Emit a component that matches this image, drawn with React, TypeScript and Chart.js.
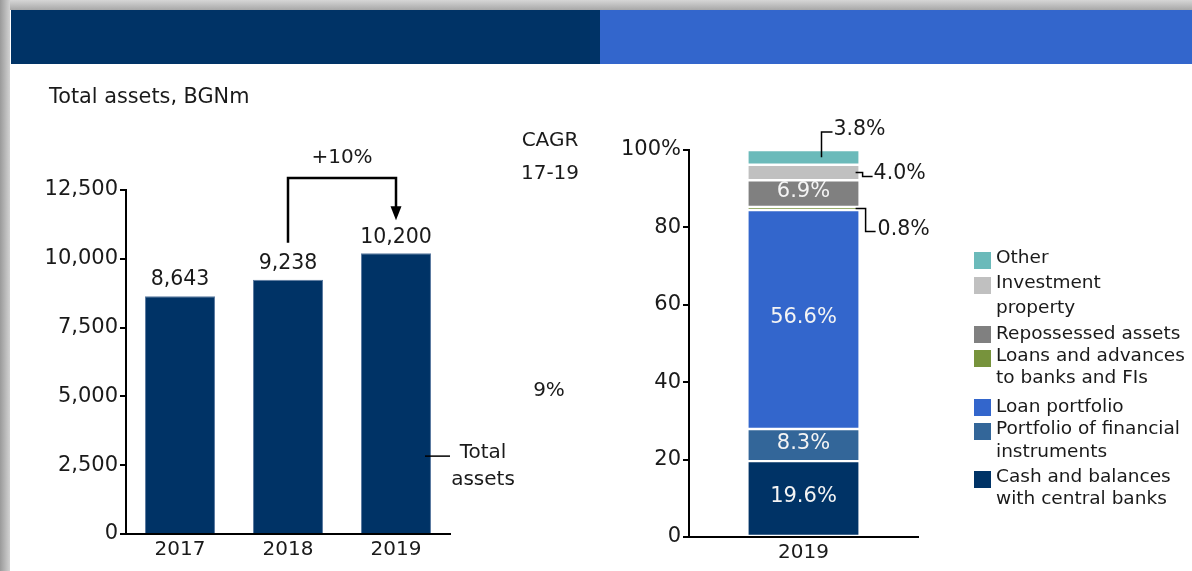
import React, { useEffect, useRef } from 'react';
import { Chart, registerables } from 'chart.js';

Chart.register(...registerables);

const FONT = "'DejaVu Sans', Verdana, sans-serif";
const TEXT = '#1a1a1a';

// ---------- data: left chart ----------
const years = ['2017', '2018', '2019'];
const totalAssets = [8643, 9238, 10200];
const assetTickStep = 2500;
const assetMax = 12500;
const chartTitle = 'Total assets, BGNm';
const growthLabel = '+10%';
const cagrLabel = ['CAGR', '17-19'];
const cagrValue = '9%';
const seriesLabel = ['Total', 'assets'];

// ---------- data: right chart ----------
const structureCategory = ['2019'];
const structureNames = [
  'Cash and balances with central banks',
  'Portfolio of financial instruments',
  'Loan portfolio',
  'Loans and advances to banks and FIs',
  'Repossessed assets',
  'Investment property',
  'Other',
];
const structureLegendLines = [
  ['Cash and balances', 'with central banks'],
  ['Portfolio of financial', 'instruments'],
  ['Loan portfolio'],
  ['Loans and advances', 'to banks and FIs'],
  ['Repossessed assets'],
  ['Investment', 'property'],
  ['Other'],
];
const structureValues = [19.6, 8.3, 56.6, 0.8, 6.9, 4.0, 3.8];
const structureColors = ['#003366', '#336699', '#3366cc', '#77933c', '#808080', '#c0c0c0', '#6bbaba'];
const percentTickStep = 20;
const percentMax = 100;

// ---------- layout (page pixels, right canvas offset 600) ----------
const legendLayout = [
  { i: 6, sq: 252, lines: [258] },
  { i: 5, sq: 277, lines: [283, 308] },
  { i: 4, sq: 326, lines: [334] },
  { i: 3, sq: 350, lines: [356, 378] },
  { i: 2, sq: 399, lines: [407] },
  { i: 1, sq: 423, lines: [429, 452] },
  { i: 0, sq: 471, lines: [477, 499] },
];

const axisCommon = (width: number) => ({
  grid: { display: true, drawOnChartArea: false, drawTicks: true, tickLength: 6, color: '#000', lineWidth: 2 },
  border: { display: true, color: '#000', width: 2 },
  afterFit: (s: any) => { s.width = width; },
});

const leftPlugin = {
  id: 'leftAnnotations',
  afterDraw(chart: any) {
    const { ctx, chartArea, scales } = chart;
    const bars = chart.getDatasetMeta(0).data;
    ctx.save();
    ctx.fillStyle = TEXT;
    ctx.font = `20.8px ${FONT}`;
    ctx.textBaseline = 'middle';
    ctx.textAlign = 'left';
    ctx.fillText(chartTitle, 49, 98);

    ctx.font = `20.5px ${FONT}`;
    ctx.textAlign = 'center';
    bars.forEach((b: any, i: number) => {
      ctx.fillText(totalAssets[i].toLocaleString('en-US'), b.x, b.y - 16);
    });

    // growth bracket
    const b1 = bars[1];
    const b2 = bars[2];
    const topY = chartArea.top - 12;
    ctx.strokeStyle = '#000';
    ctx.lineWidth = 2.5;
    ctx.lineJoin = 'miter';
    ctx.beginPath();
    ctx.moveTo(b1.x, b1.y - 37);
    ctx.lineTo(b1.x, topY);
    ctx.lineTo(b2.x, topY);
    ctx.lineTo(b2.x, b2.y - 44);
    ctx.stroke();
    ctx.fillStyle = '#000';
    ctx.beginPath();
    ctx.moveTo(b2.x - 5.5, b2.y - 47);
    ctx.lineTo(b2.x + 5.5, b2.y - 47);
    ctx.lineTo(b2.x, b2.y - 33);
    ctx.closePath();
    ctx.fill();

    ctx.font = `20px ${FONT}`;
    ctx.fillStyle = TEXT;
    ctx.fillText(growthLabel, (b1.x + b2.x) / 2, chartArea.top - 32);

    // CAGR column
    ctx.fillText(cagrLabel[0], 550, 141);
    ctx.fillText(cagrLabel[1], 550, 174);
    ctx.fillText(cagrValue, 549, 391);

    // series label
    const ly = scales.y.getPixelForValue(2830);
    ctx.lineWidth = 1.5;
    ctx.beginPath();
    ctx.moveTo(b2.x + b2.width / 2 - 6, ly);
    ctx.lineTo(chartArea.right, ly);
    ctx.stroke();
    ctx.fillText(seriesLabel[0], 483, ly - 3);
    ctx.fillText(seriesLabel[1], 483, ly + 24);
    ctx.restore();
  },
};

const rightPlugin = {
  id: 'rightAnnotations',
  afterDraw(chart: any) {
    const { ctx } = chart;
    const els = structureValues.map((_, i) => chart.getDatasetMeta(i).data[0]);
    ctx.save();
    ctx.font = `21px ${FONT}`;
    ctx.textBaseline = 'middle';
    ctx.textAlign = 'center';
    ctx.fillStyle = '#f4f4f4';
    [0, 1, 2, 4].forEach((i) => {
      const e: any = els[i];
      ctx.fillText(structureValues[i].toFixed(1) + '%', e.x, (e.y + e.base) / 2 - 2);
    });

    ctx.font = `20.5px ${FONT}`;
    ctx.strokeStyle = '#000';
    ctx.lineWidth = 1.5;
    ctx.fillStyle = TEXT;
    ctx.textAlign = 'left';
    const right = (e: any) => e.x + e.width / 2;

    const eo: any = els[6];
    const mo = (eo.y + eo.base) / 2;
    ctx.beginPath();
    ctx.moveTo(eo.x + 18, mo);
    ctx.lineTo(eo.x + 18, eo.y - 18);
    ctx.lineTo(eo.x + 29, eo.y - 18);
    ctx.stroke();
    ctx.fillText(structureValues[6].toFixed(1) + '%', eo.x + 30, eo.y - 20);

    const ei: any = els[5];
    const mi = (ei.y + ei.base) / 2;
    ctx.beginPath();
    ctx.moveTo(right(ei) - 4, mi);
    ctx.lineTo(right(ei) + 3, mi);
    ctx.lineTo(right(ei) + 3, mi + 4);
    ctx.lineTo(right(ei) + 13, mi + 4);
    ctx.stroke();
    ctx.fillText(structureValues[5].toFixed(1) + '%', right(ei) + 14, mi + 1);

    const el: any = els[3];
    const ml = (el.y + el.base) / 2;
    ctx.beginPath();
    ctx.moveTo(right(el) - 4, ml);
    ctx.lineTo(right(el) + 6, ml);
    ctx.lineTo(right(el) + 6, ml + 23);
    ctx.lineTo(right(el) + 16, ml + 23);
    ctx.stroke();
    ctx.fillText(structureValues[3].toFixed(1) + '%', right(el) + 18, ml + 21);

    // legend
    const ox = 600;
    ctx.font = `18.5px ${FONT}`;
    legendLayout.forEach((row) => {
      ctx.fillStyle = structureColors[row.i];
      ctx.fillRect(974 - ox, row.sq, 17, 17);
      ctx.fillStyle = TEXT;
      structureLegendLines[row.i].forEach((t, k) => ctx.fillText(t, 996 - ox, row.lines[k]));
    });
    ctx.restore();
  },
};

export default function App() {
  const leftRef = useRef<HTMLCanvasElement>(null);
  const rightRef = useRef<HTMLCanvasElement>(null);

  useEffect(() => {
    const xFont = { family: FONT, size: 20 };
    const yFont = { family: FONT, size: 21 };
    const left = new Chart(leftRef.current as HTMLCanvasElement, {
      type: 'bar',
      data: {
        labels: years,
        datasets: [
          {
            label: 'Total assets',
            data: totalAssets,
            backgroundColor: '#003366',
            borderColor: '#5b7aa0',
            borderWidth: 1,
            categoryPercentage: 1,
            barPercentage: 0.648,
          },
        ],
      },
      options: {
        responsive: false,
        animation: false,
        devicePixelRatio: 1,
        events: [],
        layout: { padding: { top: 190, right: 150, left: 0, bottom: 0 } },
        plugins: { legend: { display: false }, tooltip: { enabled: false } },
        scales: {
          y: {
            min: 0,
            max: assetMax,
            ...axisCommon(126),
            ticks: {
              stepSize: assetTickStep,
              color: TEXT,
              font: yFont,
              padding: 2,
              callback: (v: any) => Number(v).toLocaleString('en-US'),
            },
          },
          x: {
            grid: { display: true, drawOnChartArea: false, drawTicks: false, color: '#000', lineWidth: 2 },
            border: { display: true, color: '#000', width: 2 },
            afterFit: (s: any) => { s.height = 37; },
            ticks: { color: TEXT, font: xFont, padding: 4 },
          },
        },
      },
      plugins: [leftPlugin],
    } as any);

    const right = new Chart(rightRef.current as HTMLCanvasElement, {
      type: 'bar',
      data: {
        labels: structureCategory,
        datasets: structureNames.map((name, i) => ({
          label: name,
          data: [structureValues[i]],
          backgroundColor: structureColors[i],
          borderColor: '#ffffff',
          borderWidth: 1.2,
          borderSkipped: false,
          categoryPercentage: 1,
          barPercentage: 0.49,
        })),
      },
      options: {
        responsive: false,
        animation: false,
        devicePixelRatio: 1,
        events: [],
        layout: { padding: { top: 150, right: 274, left: 0, bottom: 0 } },
        plugins: { legend: { display: false }, tooltip: { enabled: false } },
        scales: {
          y: {
            stacked: true,
            min: 0,
            max: percentMax,
            ...axisCommon(89),
            ticks: {
              stepSize: percentTickStep,
              color: TEXT,
              font: yFont,
              padding: 2,
              callback: (v: any) => (Number(v) === percentMax ? `${v}%` : `${v}`),
            },
          },
          x: {
            stacked: true,
            grid: { display: true, drawOnChartArea: false, drawTicks: false, color: '#000', lineWidth: 2 },
            border: { display: true, color: '#000', width: 2 },
            afterFit: (s: any) => { s.height = 34; },
            ticks: { color: TEXT, font: xFont, padding: 4 },
          },
        },
      },
      plugins: [rightPlugin],
    } as any);

    return () => {
      left.destroy();
      right.destroy();
    };
  }, []);

  return (
    <div style={{ position: 'fixed', left: 0, top: 0, width: 1192, height: 571, background: '#fff', overflow: 'hidden' }}>
      <div style={{ position: 'absolute', left: 0, top: 0, width: 1192, height: 10, background: 'linear-gradient(#d6d6d6, #a8a8a8)' }} />
      <div style={{ position: 'absolute', left: 0, top: 0, width: 10, height: 571, background: 'linear-gradient(to right, #9a9a9a, #d2d2d2)' }} />
      <div style={{ position: 'absolute', left: 11, top: 10, width: 589, height: 54, background: '#003366' }} />
      <div style={{ position: 'absolute', left: 600, top: 10, width: 592, height: 54, background: '#3366cc' }} />
      <canvas ref={leftRef} width={600} height={571} style={{ position: 'absolute', left: 0, top: 0, width: 600, height: 571 }} />
      <canvas ref={rightRef} width={592} height={571} style={{ position: 'absolute', left: 600, top: 0, width: 592, height: 571 }} />
    </div>
  );
}
